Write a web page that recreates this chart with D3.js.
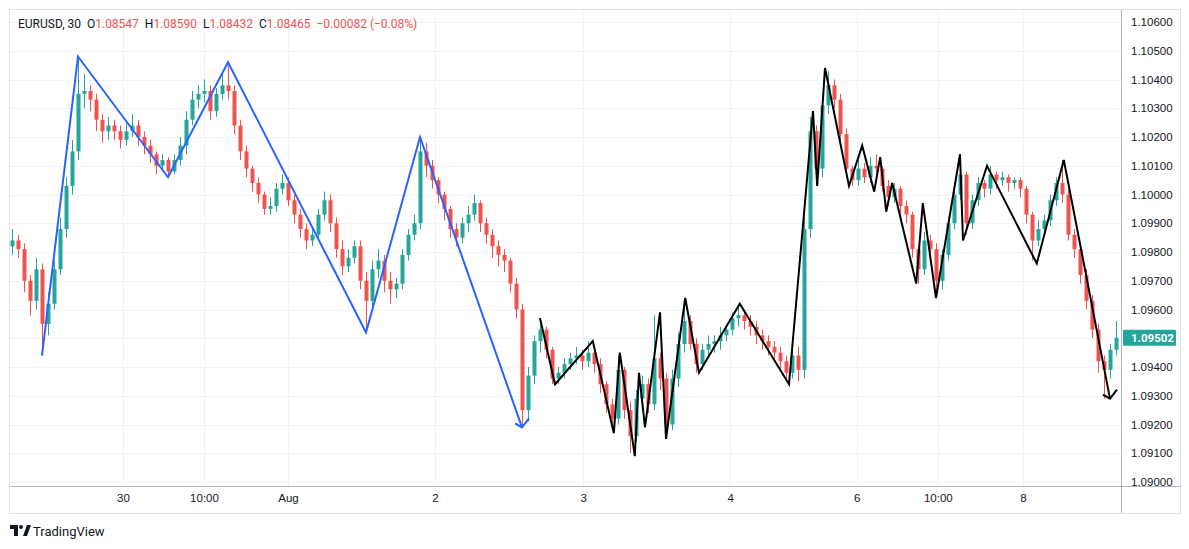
<!DOCTYPE html>
<html><head><meta charset="utf-8">
<script src="https://cdn.jsdelivr.net/npm/d3@7/dist/d3.min.js"></script>
<style>body{margin:0;background:#fff}svg{font-family:"Trebuchet MS",Roboto,"Noto Sans",sans-serif}</style>
</head><body><svg id="c" width="1189" height="549"></svg>
<script>
const closes=[1.0984,1.0981,1.0970,1.0963,1.0974,1.0955,1.0962,1.0974,1.0988,1.1003,1.1015,1.1035,1.1036,1.1033,1.1026,1.1022,1.1024,1.1022,1.1019,1.1022,1.1024,1.1020,1.1017,1.1014,1.1010,1.1012,1.1008,1.1012,1.1017,1.1026,1.1033,1.1035,1.1036,1.1029,1.1035,1.1038,1.1036,1.1024,1.1015,1.1009,1.1004,1.1000,1.0995,1.0996,1.1002,1.1004,1.0998,1.0993,1.0988,1.0984,1.0986,1.0993,1.0998,1.0990,1.0981,1.0975,1.0978,1.0982,1.0970,1.0963,1.0974,1.0977,1.0970,1.0967,1.0969,1.0979,1.0986,1.0990,1.1015,1.1010,1.1005,1.1000,1.0995,1.0988,1.0985,1.0990,1.0993,1.0997,1.0990,1.0986,1.0982,1.0979,1.0977,1.0969,1.0960,1.0925,1.0937,1.0949,1.0953,1.0946,1.0936,1.0938,1.0941,1.0943,1.0944,1.0942,1.0945,1.0941,1.0934,1.0927,1.0922,1.0939,1.0925,1.0916,1.0929,1.0934,1.0927,1.0943,1.0936,1.0920,1.0936,1.0948,1.0956,1.0948,1.0941,1.0946,1.0948,1.0949,1.0951,1.0953,1.0957,1.0958,1.0956,1.0954,1.0951,1.0949,1.0947,1.0945,1.0942,1.0938,1.0944,1.0939,1.0988,1.1022,1.1009,1.1031,1.1038,1.1033,1.1021,1.1009,1.1005,1.1009,1.1006,1.1010,1.1009,1.1003,1.0999,1.1002,1.0996,1.0993,1.0981,1.0974,1.0984,1.0981,1.0970,1.0979,1.0990,1.1000,1.1007,1.0990,1.0998,1.1004,1.1002,1.1007,1.1005,1.1006,1.1004,1.1005,1.1002,1.0993,1.0984,1.0988,1.0991,1.0998,1.1004,1.1000,1.0986,1.0981,1.0972,1.0963,1.0953,1.0942,1.0939,1.0946,1.09502];
const highs=[1.0988,1.0986,1.0983,1.0972,1.0978,1.0976,1.0966,1.0977,1.0992,1.1006,1.1019,1.1048,1.1042,1.1038,1.1035,1.1028,1.1027,1.1026,1.1024,1.1025,1.1028,1.1026,1.1022,1.1019,1.1015,1.1014,1.1013,1.1014,1.1020,1.1029,1.1036,1.1038,1.1040,1.1038,1.1037,1.1042,1.1046,1.1038,1.1026,1.1017,1.1010,1.1006,1.1001,1.0999,1.1004,1.1007,1.1006,1.1000,1.0995,1.0990,1.0989,1.0995,1.1001,1.1000,1.0992,1.0984,1.0981,1.0984,1.0984,1.0973,1.0977,1.0981,1.0979,1.0973,1.0971,1.0981,1.0988,1.0993,1.1020,1.1018,1.1012,1.1006,1.1001,1.0996,1.0990,1.0992,1.0996,1.1000,1.0998,1.0992,1.0988,1.0984,1.0981,1.0978,1.0971,1.0962,1.0940,1.0951,1.0957,1.0954,1.0947,1.0940,1.0943,1.0945,1.0947,1.0946,1.0949,1.0946,1.0943,1.0935,1.0929,1.0944,1.0940,1.0928,1.0932,1.0937,1.0936,1.0958,1.0945,1.0938,1.0939,1.0952,1.0964,1.0958,1.0950,1.0948,1.0951,1.0951,1.0954,1.0955,1.0959,1.0962,1.0960,1.0958,1.0956,1.0953,1.0951,1.0949,1.0947,1.0944,1.0946,1.0947,1.0992,1.1027,1.1024,1.1034,1.1043,1.1040,1.1035,1.1023,1.1010,1.1012,1.1011,1.1013,1.1014,1.1010,1.1005,1.1004,1.1003,1.0998,1.0994,1.0982,1.0987,1.0986,1.0983,1.0981,1.0992,1.1002,1.1014,1.1008,1.1000,1.1006,1.1005,1.1010,1.1008,1.1008,1.1007,1.1006,1.1006,1.1003,1.0994,1.0991,1.0993,1.1000,1.1006,1.1012,1.1002,1.0988,1.0983,1.0974,1.0965,1.0955,1.0944,1.0948,1.0956];
const lows=[1.0979,1.0978,1.0966,1.0958,1.0960,1.0944,1.0951,1.0960,1.0972,1.0985,1.1000,1.1012,1.1030,1.1029,1.1022,1.1018,1.1019,1.1019,1.1016,1.1017,1.1020,1.1017,1.1014,1.1011,1.1007,1.1008,1.1006,1.1007,1.1010,1.1014,1.1024,1.1030,1.1032,1.1026,1.1027,1.1033,1.1033,1.1021,1.1012,1.1006,1.1001,1.0997,1.0993,1.0993,1.0994,1.1000,1.0996,1.0990,1.0985,1.0981,1.0982,1.0984,1.0991,1.0987,1.0978,1.0972,1.0973,1.0976,1.0967,1.0952,1.0960,1.0971,1.0966,1.0962,1.0964,1.0967,1.0977,1.0984,1.0988,1.1006,1.1002,1.0997,1.0991,1.0985,1.0982,1.0983,1.0987,1.0991,1.0987,1.0983,1.0978,1.0975,1.0973,1.0966,1.0957,1.0919,1.0921,1.0934,1.0945,1.0943,1.0934,1.0934,1.0936,1.0939,1.0941,1.0939,1.0940,1.0938,1.0931,1.0924,1.0918,1.0920,1.0922,1.0910,1.0914,1.0926,1.0924,1.0925,1.0932,1.0915,1.0918,1.0933,1.0945,1.0946,1.0938,1.0939,1.0943,1.0945,1.0946,1.0949,1.0951,1.0954,1.0953,1.0951,1.0948,1.0946,1.0944,1.0942,1.0939,1.0935,1.0936,1.0935,1.0936,1.0985,1.1003,1.1006,1.1028,1.1030,1.1018,1.1006,1.1003,1.1003,1.1004,1.1004,1.1006,1.1001,1.0996,1.0997,1.0993,1.0990,1.0978,1.0969,1.0972,1.0977,1.0966,1.0967,1.0977,1.0988,1.0998,1.0986,1.0988,1.0996,1.0999,1.1000,1.1002,1.1003,1.1001,1.1002,1.0999,1.0990,1.0977,1.0982,1.0986,1.0989,1.0996,1.0997,1.0984,1.0978,1.0969,1.0960,1.0950,1.0938,1.0929,1.0936,1.0944];
const firstOpen=1.0982;
const blueIdx=[5,11,26,36,59,68,85];
const bluePx=[1.0944,1.1048,1.1006,1.1046,1.0952,1.1020,1.0919];
const bIdx=[88,90.5,96.8,100.3,101.3,103.8,104.5,105.5,108,109,112.2,114.5,121.3,129.5,133.5,134.2,135.5,139.5,141.7,143.7,144.7,145.7,146.7,150.7,151.8,154,158,158.5,162.5,170.8,175.3,183];
const bPx=[1.0957,1.0934,1.0949,1.0917,1.0945,1.0909,1.0938,1.0919,1.0959,1.0915,1.0964,1.0938,1.0962,1.0934,1.1029,1.1003,1.1044,1.1003,1.1017,1.1001,1.1013,1.0994,1.1004,1.0969,1.0997,1.0964,1.1014,1.0984,1.1010,1.0976,1.1012,1.0929];
const timeTickIdx=[18.5,32,46,70.5,95.2,119.7,140.8,154.3,168.5];
const timeTickLabels=["30","10:00","Aug","2","3","4","6","10:00","8"];
const priceTicks=[1.090,1.091,1.092,1.093,1.094,1.095,1.096,1.097,1.098,1.099,1.100,1.101,1.102,1.103,1.104,1.105,1.106];

const svg=d3.select("#c");
const L=10,R=1121,T=10,B=486;
const x=d3.scaleLinear().domain([0,184]).range([12,1116]);
const y=d3.scaleLinear().domain([1.090,1.106]).range([482,22]);
svg.append("rect").attr("x",9.5).attr("y",9.5).attr("width",1171).attr("height",504).attr("fill","none").attr("stroke","#e0e3eb");
const g=svg.append("g");
g.selectAll(".hg").data(priceTicks).join("line").attr("x1",L).attr("x2",R).attr("y1",d=>Math.round(y(d))+.5).attr("y2",d=>Math.round(y(d))+.5).attr("stroke","#f0f3fa");
g.selectAll(".vg").data(timeTickIdx).join("line").attr("x1",d=>Math.round(x(d))+.5).attr("x2",d=>Math.round(x(d))+.5).attr("y1",T).attr("y2",B).attr("stroke","#f0f3fa");
svg.append("line").attr("x1",R+.5).attr("x2",R+.5).attr("y1",T).attr("y2",513).attr("stroke","#b2b5be");
svg.append("line").attr("x1",L).attr("x2",1181).attr("y1",B+.5).attr("y2",B+.5).attr("stroke","#b2b5be");
const ya=d3.axisRight(y).tickValues(priceTicks).tickFormat(d3.format(".5f")).tickSize(0).tickPadding(10);
const yg=svg.append("g").attr("transform",`translate(${R},0)`).call(ya);
yg.select(".domain").remove();
yg.selectAll("text").attr("font-size",11.5).attr("fill","#131722");
const xa=d3.axisBottom(x).tickValues(timeTickIdx).tickFormat((d,i)=>timeTickLabels[i]).tickSize(0).tickPadding(8);
const xg=svg.append("g").attr("transform",`translate(0,${B})`).call(xa);
xg.select(".domain").remove();
xg.selectAll("text").attr("font-size",11.5).attr("fill","#131722");
const data=closes.map((c,i)=>({i,o:i?closes[i-1]:firstOpen,c,h:highs[i],l:lows[i]}));
const up="#26a69a",dn="#ef5350";
const cg=svg.append("g");
cg.selectAll(".w").data(data).join("line").attr("x1",d=>Math.round(x(d.i))+.5).attr("x2",d=>Math.round(x(d.i))+.5)
 .attr("y1",d=>y(d.h)).attr("y2",d=>y(d.l)).attr("stroke",d=>d.c>=d.o?up:dn);
cg.selectAll(".b").data(data).join("rect").attr("x",d=>Math.round(x(d.i))-1.5).attr("width",4)
 .attr("y",d=>y(Math.max(d.o,d.c))).attr("height",d=>Math.max(1,Math.abs(y(d.o)-y(d.c)))).attr("fill",d=>d.c>=d.o?up:dn);
const line=d3.line().x(d=>x(d[0])).y(d=>y(d[1]));
const blue=blueIdx.map((v,i)=>[v,bluePx[i]]);
const black=bIdx.map((v,i)=>[v,bPx[i]]);
function arrow(pts,col){
  const b=pts[pts.length-1];
  const bx=x(b[0]),by=y(b[1]);
  svg.append("path").attr("d",`M${bx-7},${by-4}L${bx},${by}L${bx+7},${by-9}`).attr("fill","none").attr("stroke",col).attr("stroke-width",2);
}
svg.append("path").attr("d",line(blue)).attr("fill","none").attr("stroke","#2962ff").attr("stroke-width",2);
arrow(blue,"#2962ff");
svg.append("path").attr("d",line(black)).attr("fill","none").attr("stroke","#000").attr("stroke-width",2);
arrow(black,"#000");
const lp=closes[closes.length-1];
svg.append("rect").attr("x",R+2).attr("y",y(lp)-8).attr("width",53).attr("height",16).attr("rx",1).attr("fill",up);
svg.append("text").attr("x",R+10).attr("y",y(lp)+4).attr("font-size",11.5).attr("font-weight","bold").attr("fill","#fff").text(d3.format(".5f")(lp));
const S="\u00a0";
const ht=svg.append("text").attr("x",18).attr("y",28).attr("font-size",12).attr("fill","#131722");
ht.append("tspan").text("EURUSD,"+S+"30"+S+S+"O");
ht.append("tspan").attr("fill",dn).text("1.08547");
ht.append("tspan").text(S+S+"H");
ht.append("tspan").attr("fill",dn).text("1.08590");
ht.append("tspan").text(S+S+"L");
ht.append("tspan").attr("fill",dn).text("1.08432");
ht.append("tspan").text(S+S+"C");
ht.append("tspan").attr("fill",dn).text("1.08465"+S+S+"\u22120.00082"+S+"(\u22120.08%)");
const lg=svg.append("g").attr("transform","translate(10,525)");
lg.append("path").attr("d","M0,0H8V11H4V4H0Z").attr("fill","#131722");
lg.append("circle").attr("cx",11).attr("cy",2).attr("r",2).attr("fill","#131722");
lg.append("path").attr("d","M13,11L17,0H21L17,11Z").attr("fill","#131722");
svg.append("text").attr("x",33).attr("y",536).attr("font-size",13).attr("fill","#131722").text("TradingView");
</script></body></html>
